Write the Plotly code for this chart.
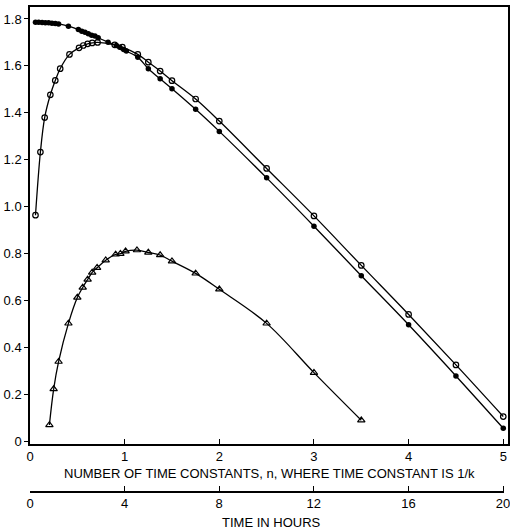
import plotly.graph_objects as go

# Data (n = number of time constants)
n_filled = [0.058, 0.092, 0.128, 0.162, 0.197, 0.232, 0.267, 0.302, 0.406, 0.511, 0.547, 0.581,
            0.616, 0.651, 0.686, 0.72, 0.825, 0.913, 0.948, 0.99, 1.018, 1.139, 1.25, 1.375,
            1.5, 1.75, 2.0, 2.5, 3.0, 3.5, 4.0, 4.5, 5.0]
y_filled = [1.786, 1.786, 1.785, 1.784, 1.784, 1.782, 1.781, 1.779, 1.769, 1.755, 1.748, 1.743,
            1.737, 1.731, 1.727, 1.72, 1.701, 1.687, 1.68, 1.67, 1.663, 1.637, 1.588, 1.545,
            1.503, 1.415, 1.321, 1.123, 0.917, 0.706, 0.497, 0.279, 0.056]

n_open = [0.058, 0.11, 0.155, 0.215, 0.267, 0.319, 0.417, 0.518, 0.563, 0.609, 0.657, 0.714,
          0.895, 0.976, 1.139, 1.25, 1.375, 1.5, 1.75, 2.0, 2.5, 3.0, 3.5, 4.0, 4.5, 5.0]
y_open = [0.964, 1.233, 1.38, 1.477, 1.538, 1.588, 1.649, 1.677, 1.687, 1.694, 1.698, 1.70,
          1.69, 1.68, 1.649, 1.616, 1.578, 1.537, 1.459, 1.365, 1.163, 0.961, 0.75, 0.541,
          0.326, 0.106]

n_tri = [0.205, 0.25, 0.302, 0.406, 0.5, 0.557, 0.609, 0.657, 0.709, 0.8, 0.905, 0.955, 1.01,
         1.13, 1.25, 1.375, 1.5, 1.75, 2.0, 2.5, 3.0, 3.5]
y_tri = [0.07, 0.223, 0.34, 0.503, 0.613, 0.656, 0.69, 0.72, 0.74, 0.772, 0.797, 0.80, 0.81,
         0.815, 0.805, 0.794, 0.768, 0.716, 0.648, 0.503, 0.293, 0.09]

n_ticks = [0, 1, 2, 3, 4, 5]
n_ticklabels = ["0", "1", "2", "3", "4", "5"]
y_ticks = [0, 0.2, 0.4, 0.6, 0.8, 1.0, 1.2, 1.4, 1.6, 1.8]
y_ticklabels = ["0", "0.2", "0.4", "0.6", "0.8", "1.0", "1.2", "1.4", "1.6", "1.8"]
hour_ticks = [0, 4, 8, 12, 16, 20]
hour_ticklabels = ["0", "4", "8", "12", "16", "20"]

x_title = "NUMBER OF TIME CONSTANTS, n, WHERE TIME CONSTANT IS 1/k"
x2_title = "TIME IN HOURS"

FONT = "Liberation Sans"
W, H = 510, 531
ML, MR, MT, MB = 30, 2, 7, 40
plot_h = H - MT - MB
main_bottom_px = 444
y_dom0 = ((H - MB) - main_bottom_px) / plot_h
X2_MAX = 20.05


def py_to_paper(py):
    return ((H - MB) - py) / plot_h


fig = go.Figure()
line = dict(color="black", width=1.3, shape="spline", smoothing=1.0)
fig.add_trace(go.Scatter(x=n_open, y=y_open, mode="lines+markers", line=line,
                         marker=dict(symbol="circle-open", size=5.5, color="black",
                                     line=dict(width=1.2, color="black")),
                         showlegend=False))
fig.add_trace(go.Scatter(x=n_filled, y=y_filled, mode="lines+markers", line=line,
                         marker=dict(symbol="circle", size=5.5, color="black"),
                         showlegend=False))
fig.add_trace(go.Scatter(x=n_tri, y=y_tri, mode="lines+markers", line=line,
                         marker=dict(symbol="triangle-up-open", size=6.5, color="black",
                                     line=dict(width=1.2, color="black")),
                         showlegend=False))
fig.add_trace(go.Scatter(x=hour_ticks, y=[0] * len(hour_ticks), xaxis="x2", yaxis="y2",
                         mode="markers", marker=dict(opacity=0), hoverinfo="skip",
                         showlegend=False))

axis_common = dict(showline=True, linecolor="black", linewidth=1.5, showgrid=False,
                   zeroline=False, automargin=False, ticklabeloverflow="allow",
                   tickfont=dict(family=FONT, size=13, color="black"),
                   tickcolor="black")

fig.update_layout(
    width=W, height=H,
    margin=dict(l=ML, r=MR, t=MT, b=MB),
    paper_bgcolor="white", plot_bgcolor="white",
    xaxis=dict(range=[0, 5.05], domain=[0, 1], anchor="y", mirror=True,
               tickmode="array", tickvals=n_ticks, ticktext=n_ticklabels,
               ticks="inside", ticklen=5, tickwidth=1.2, **axis_common),
    yaxis=dict(range=[-0.011, 1.851], domain=[y_dom0, 1], anchor="x", mirror=True,
               tickmode="array", tickvals=y_ticks, ticktext=y_ticklabels,
               ticks="outside", ticklen=4, tickwidth=1.2, **axis_common),
    xaxis2=dict(range=[0, X2_MAX],
                domain=[0, (503 - ML) * (X2_MAX / 20) / (W - ML - MR)], anchor="y2",
                tickmode="array", tickvals=hour_ticks, ticktext=hour_ticklabels,
                ticks="inside", ticklen=5, tickwidth=1.2, **axis_common),
    yaxis2=dict(range=[0, 1], domain=[0, 0.001], anchor="x2", visible=False),
    annotations=[
        dict(text=x_title, x=0.5, xref="paper", y=py_to_paper(473), yref="paper",
             yanchor="middle", showarrow=False,
             font=dict(family=FONT, size=13, color="black")),
        dict(text=x2_title, x=0.505, xref="paper", y=py_to_paper(522), yref="paper",
             yanchor="middle", showarrow=False,
             font=dict(family=FONT, size=13, color="black")),
    ],
)

fig.write_html("out.html", config={"displayModeBar": False},
               post_script="document.body.style.margin='0';document.body.style.padding='0';")
